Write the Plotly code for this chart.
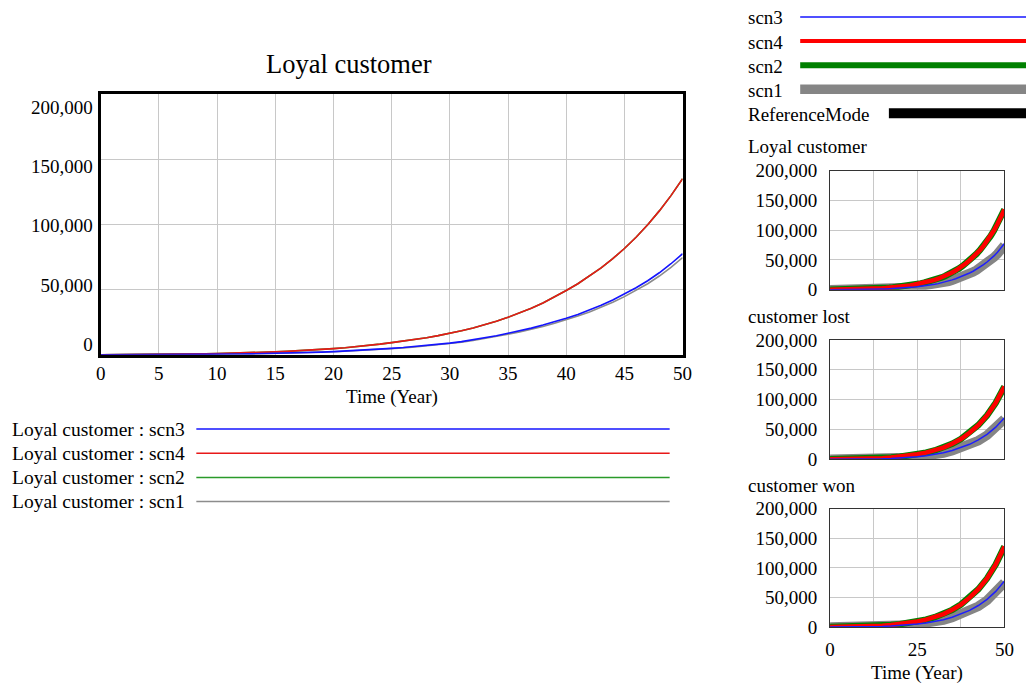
import plotly.graph_objects as go

# ---- data -------------------------------------------------------------
years = list(range(0, 51))

# Loyal customer, one value per year
loyal_scn4 = [0, 40, 90, 150, 220, 300, 380, 480, 600, 780,
              1000, 1180, 1390, 1650, 1950, 2300, 2660, 3080, 3570, 4140,
              4800, 5490, 6280, 7190, 8220, 9400, 10520, 11770, 13170, 14740,
              16500, 18450, 20630, 23060, 25780, 28800, 32100, 35700, 39800, 44300,
              49300, 54500, 60300, 66700, 73700, 81500, 90100, 99700, 110300, 122000,
              135000]
loyal_scn2 = [0, 40, 90, 150, 220, 300, 380, 480, 600, 780,
              1000, 1180, 1390, 1650, 1950, 2300, 2660, 3080, 3570, 4140,
              4800, 5490, 6280, 7190, 8220, 9400, 10520, 11770, 13170, 14740,
              16500, 18450, 20630, 23060, 25780, 28800, 32100, 35700, 39800, 44300,
              49300, 54500, 60300, 66700, 73700, 81500, 90100, 99700, 110300, 122000,
              135000]
loyal_scn3 = [0, 10, 30, 60, 90, 130, 180, 240, 310, 390,
              480, 560, 660, 780, 920, 1100, 1300, 1530, 1800, 2130,
              2500, 2900, 3350, 3850, 4400, 5000, 5620, 6330, 7120, 8000,
              9000, 10160, 11470, 12950, 14620, 16500, 18400, 20500, 22800, 25300,
              28000, 31000, 34300, 38000, 42100, 46500, 51400, 56800, 62900, 69800,
              77500]
loyal_scn1 = [0, 10, 30, 55, 85, 120, 170, 225, 290, 365,
              450, 530, 620, 740, 870, 1040, 1230, 1450, 1710, 2020,
              2380, 2760, 3190, 3670, 4200, 4780, 5360, 6030, 6800, 7670,
              8640, 9700, 10950, 12370, 13960, 15760, 17600, 19600, 21800, 24200,
              26800, 29700, 32900, 36400, 40300, 44600, 49300, 54500, 60400, 67000,
              74500]

# customer lost / customer won, every 2.5 years
years_small = [0, 2.5, 5, 7.5, 10, 12.5, 15, 17.5, 20, 22.5, 25,
               27.5, 30, 32.5, 35, 37.5, 40, 42.5, 45, 47.5, 50]
lost_scn4 = [0, 110, 270, 490, 900, 1370, 2070, 3000, 4330, 6070, 8480,
             11250, 14900, 19700, 26000, 34100, 44500, 57300, 73600, 94700, 122000]
lost_scn2 = [0, 110, 270, 490, 900, 1370, 2070, 3000, 4330, 6070, 8480,
             11250, 14900, 19700, 26000, 34100, 44500, 57300, 73600, 94700, 122000]
lost_scn3 = [0, 40, 120, 250, 430, 650, 990, 1500, 2250, 3240, 4500,
             6050, 8100, 11000, 14900, 19500, 25200, 32500, 41900, 53900, 69800]
lost_scn1 = [0, 40, 110, 240, 410, 620, 950, 1440, 2170, 3120, 4340,
             5840, 7820, 10600, 14400, 18800, 24300, 31400, 40400, 52000, 67400]

won_scn4 = [0, 120, 300, 545, 1010, 1530, 2320, 3350, 4840, 6780, 9470,
            12560, 16620, 22000, 29000, 38000, 49650, 63950, 82100, 105650, 136000]
won_scn2 = [0, 120, 300, 545, 1010, 1530, 2320, 3350, 4840, 6780, 9470,
            12560, 16620, 22000, 29000, 38000, 49650, 63950, 82100, 105650, 136000]
won_scn3 = [0, 45, 130, 280, 485, 725, 1110, 1670, 2520, 3630, 5040,
            6770, 9070, 12300, 16600, 21800, 28200, 36400, 46800, 60200, 78000]
won_scn1 = [0, 45, 125, 265, 465, 700, 1070, 1610, 2430, 3500, 4860,
            6530, 8750, 11870, 16000, 21000, 27200, 35100, 45200, 58100, 75300]

main_xticks = [0, 5, 10, 15, 20, 25, 30, 35, 40, 45, 50]
small_xticks = [0, 12.5, 25, 37.5, 50]
small_xticklabels = ["0", "", "25", "", "50"]
yticks = [0, 50000, 100000, 150000, 200000]
ytick_labels = ["0", "50,000", "100,000", "150,000", "200,000"]

scenarios = ["scn3", "scn4", "scn2", "scn1"]
main_colors = {"scn3": "#1414ff", "scn4": "#e81818", "scn2": "#2a9a2a", "scn1": "#8c8c8c"}
small_colors = {"scn3": "#1e1eff", "scn4": "#ff0000", "scn2": "#008000", "scn1": "#858585"}
small_widths = {"scn3": 1.5, "scn4": 4.5, "scn2": 6.5, "scn1": 9.5}

# ---- page geometry ------------------------------------------------------
# Layout positions below are written in screen pixels of the finished page;
# the figure sits inside the page body with a small inset and scale.
W, H = 1036, 686
SX, OX = 0.989, 3.0
SY, OY = 0.974, 8.5
FONT = "Liberation Serif, Times New Roman, serif"


def px(x):
    return ((x - OX) / SX) / W


def py(y):
    return 1 - ((y - OY) / SY) / H


fig = go.Figure()

# main chart: scn1 at the back, scn3 in front
main_series = {"scn3": loyal_scn3, "scn4": loyal_scn4, "scn2": loyal_scn2, "scn1": loyal_scn1}
for name in ["scn1", "scn2", "scn4", "scn3"]:
    fig.add_trace(go.Scatter(x=years, y=main_series[name], mode="lines",
                             line=dict(color=main_colors[name], width=1.6),
                             xaxis="x", yaxis="y", showlegend=False, hoverinfo="skip"))
# empty trace so the label axis of the main chart is drawn
fig.add_trace(go.Scatter(x=[], y=[], mode="lines", xaxis="x", yaxis="y2",
                         showlegend=False, hoverinfo="skip"))

small_sets = [
    ("x3", "y3", years, {"scn3": loyal_scn3, "scn4": loyal_scn4, "scn2": loyal_scn2, "scn1": loyal_scn1}),
    ("x4", "y4", years_small, {"scn3": lost_scn3, "scn4": lost_scn4, "scn2": lost_scn2, "scn1": lost_scn1}),
    ("x5", "y5", years_small, {"scn3": won_scn3, "scn4": won_scn4, "scn2": won_scn2, "scn1": won_scn1}),
]
for xa, ya, xs, series in small_sets:
    for name in ["scn1", "scn2", "scn4", "scn3"]:
        fig.add_trace(go.Scatter(x=xs, y=series[name], mode="lines",
                                 line=dict(color=small_colors[name], width=small_widths[name]),
                                 xaxis=xa, yaxis=ya, showlegend=False, hoverinfo="skip"))

grid = "#c8c8c8"
tickfont = dict(family=FONT, size=19, color="black")

layout = dict(
    width=W, height=H, autosize=False, margin=dict(l=0, r=0, t=0, b=0, pad=0),
    paper_bgcolor="white", plot_bgcolor="white", showlegend=False,
    font=dict(family=FONT, color="black"),
    xaxis=dict(domain=[px(99), px(683)], range=[0, 50], anchor="y",
               tickmode="array", tickvals=main_xticks, ticks="", tickfont=tickfont,
               showgrid=True, gridcolor=grid, gridwidth=1, zeroline=False,
               showline=True, linecolor="black", linewidth=2.5, mirror=True),
    yaxis=dict(domain=[py(355), py(92.7)], range=[0, 200000], anchor="x",
               tickmode="array", tickvals=yticks, showticklabels=False, ticks="",
               showgrid=True, gridcolor=grid, gridwidth=1, zeroline=False,
               showline=True, linecolor="black", linewidth=2.5, mirror=True),
    # label axis for the main chart's value scale
    yaxis2=dict(overlaying="y", anchor="x", side="left", range=[-9271, 211800],
                tickmode="array", tickvals=yticks, ticktext=ytick_labels,
                tickfont=tickfont, ticks="", showgrid=False, zeroline=False,
                showline=False, ticklabelstandoff=7),
)

small_tops = [170, 340, 509.5]
small_bottoms = [289.5, 460, 628.5]
for i, (top, bot) in enumerate(zip(small_tops, small_bottoms)):
    n = i + 3
    last = (i == 2)
    layout[f"xaxis{n}"] = dict(domain=[px(831), px(1006)], range=[0, 50], anchor=f"y{n}",
                               tickmode="array", tickvals=small_xticks, ticktext=small_xticklabels,
                               showticklabels=last, ticks="", tickfont=tickfont,
                               ticklabelstandoff=5,
                               showgrid=True, gridcolor=grid, gridwidth=1, zeroline=False,
                               showline=True, linecolor="#333333", linewidth=1, mirror=True)
    layout[f"yaxis{n}"] = dict(domain=[py(bot), py(top)], range=[0, 200000], anchor=f"x{n}",
                               tickmode="array", tickvals=yticks, ticktext=ytick_labels,
                               ticks="", tickfont=tickfont, ticklabelstandoff=8,
                               showgrid=True, gridcolor=grid, gridwidth=1, zeroline=False,
                               showline=True, linecolor="#333333", linewidth=1, mirror=True)

fig.update_layout(**layout)

annotations = []
shapes = []


def text(x, y, s, size, xanchor="left"):
    annotations.append(dict(x=px(x), y=py(y), xref="paper", yref="paper", text=s,
                            showarrow=False, xanchor=xanchor, yanchor="middle",
                            font=dict(family=FONT, size=size, color="black")))


def hline(x0, x1, y, color, width):
    shapes.append(dict(type="line", xref="paper", yref="paper",
                       x0=px(x0), x1=min(px(x1), 1.0), y0=py(y), y1=py(y),
                       line=dict(color=color, width=width)))


# titles and axis names
text(348, 63, "Loyal customer", 26.5, "center")
text(391, 397, "Time (Year)", 19, "center")
text(747, 146, "Loyal customer", 19)
text(747, 316.5, "customer lost", 19)
text(747, 486.5, "customer won", 19)
text(918, 675, "Time (Year)", 19, "center")

# key under the main chart
for k, name in enumerate(scenarios):
    y = 429.5 + k * 24.3
    text(8, y, f"Loyal customer : {name}", 19.5)
    hline(195, 670, y, main_colors[name], 1.5)

# key for the small charts
right_key = [("scn3", "#5050ff", 2, 801), ("scn4", "#ff0000", 4, 801),
             ("scn2", "#008000", 6, 801), ("scn1", "#858585", 9.5, 801),
             ("ReferenceMode", "#000000", 10, 890)]
for k, (name, color, width, x0) in enumerate(right_key):
    y = 15.5 + k * 24.2
    text(747, y + 1, name, 19)
    hline(x0, 1036, y, color, width)

fig.update_layout(annotations=annotations, shapes=shapes)

fig.write_html("out.html")
